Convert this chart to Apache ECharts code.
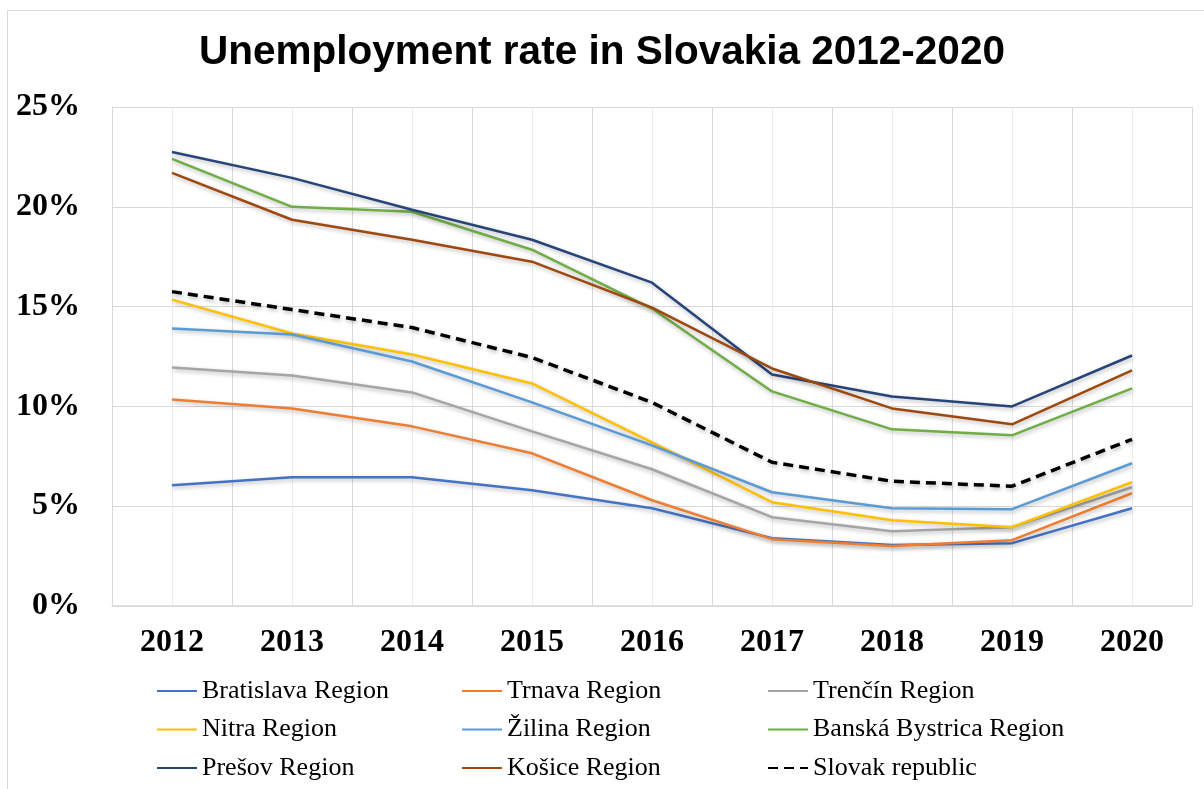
<!DOCTYPE html>
<html>
<head>
<meta charset="utf-8">
<title>Unemployment rate in Slovakia 2012-2020</title>
<script src="https://cdn.jsdelivr.net/npm/echarts@6/dist/echarts.min.js"></script>
<style>
    html, body { margin: 0; padding: 0; background: #ffffff; }
    #chart { width: 1204px; height: 789px; }
</style>
</head>
<body>
<div id="chart"></div>
<script>
// data (percent)
var years = ['2012', '2013', '2014', '2015', '2016', '2017', '2018', '2019', '2020'];

var bratislava = [6.05, 6.45, 6.45, 5.8, 4.9, 3.4, 3.05, 3.15, 4.9];
var trnava = [10.35, 9.9, 9.0, 7.65, 5.3, 3.35, 3.0, 3.3, 5.65];
var trencin = [11.95, 11.55, 10.7, 8.75, 6.85, 4.45, 3.75, 3.95, 5.95];
var nitra = [15.35, 13.65, 12.6, 11.15, 8.2, 5.2, 4.3, 3.95, 6.2];
var zilina = [13.9, 13.6, 12.25, 10.2, 8.05, 5.7, 4.9, 4.85, 7.15];
var banskaBystrica = [22.4, 20.0, 19.75, 17.85, 14.9, 10.75, 8.85, 8.55, 10.9];
var presov = [22.75, 21.45, 19.85, 18.35, 16.2, 11.6, 10.5, 10.0, 12.55];
var kosice = [21.7, 19.35, 18.35, 17.25, 14.95, 11.9, 9.9, 9.1, 11.8];
var slovakRepublic = [15.75, 14.85, 13.95, 12.45, 10.2, 7.2, 6.25, 6.0, 8.35];

var yTicks = [0, 5, 10, 15, 20, 25];

(function () {
    var myChart = echarts.init(document.getElementById('chart'));

    var shadow = {
        shadowColor: 'rgba(0, 0, 0, 0.28)',
        shadowBlur: 4,
        shadowOffsetX: 1,
        shadowOffsetY: 2
    };

    // one region line
    function region(name, color, data) {
        return {
            name: name,
            type: 'line',
            data: data,
            symbol: 'none',
            silent: true,
            itemStyle: { color: color },
            lineStyle: Object.assign({ color: color, width: 2.5 }, shadow)
        };
    }

    var legendText = {
        fontFamily: '"Liberation Serif", "Times New Roman", serif',
        fontSize: 26,
        lineHeight: 26,
        color: '#000000'
    };

    // legend in three fixed columns, like the Excel one
    function legendColumn(left, names) {
        return {
            orient: 'vertical',
            left: left,
            top: 673,
            height: 140,
            itemWidth: 40,
            itemHeight: 14,
            itemGap: 12.5,
            selectedMode: false,
            itemStyle: { opacity: 0 },
            textStyle: legendText,
            data: names
        };
    }

    var option = {
        animation: false,
        backgroundColor: '#ffffff',
        graphic: [{
            type: 'rect',
            shape: { x: 7.5, y: 10.5, width: 1220, height: 800 },
            style: { fill: 'none', stroke: '#d9d9d9', lineWidth: 1 },
            silent: true
        }],
        title: {
            text: 'Unemployment rate in Slovakia 2012-2020',
            left: 'center',
            top: 27,
            textStyle: {
                fontFamily: '"Liberation Sans", Arial, sans-serif',
                fontWeight: 'bold',
                fontSize: 40.5,
                color: '#000000'
            }
        },
        legend: [
            legendColumn(151, ['Bratislava Region', 'Nitra Region', 'Prešov Region']),
            legendColumn(456, ['Trnava Region', 'Žilina Region', 'Košice Region']),
            legendColumn(762, ['Trenčín Region', 'Banská Bystrica Region', 'Slovak republic'])
        ],
        grid: {
            left: 112,
            right: 12,
            top: 107,
            bottom: 183,
            containLabel: false
        },
        xAxis: [
            {
                type: 'category',
                data: years,
                boundaryGap: true,
                axisTick: { show: false },
                axisLine: { lineStyle: { color: '#d9d9d9', width: 1.5 } },
                axisLabel: {
                    margin: 21,
                    fontFamily: '"Liberation Serif", "Times New Roman", serif',
                    fontWeight: 'bold',
                    fontSize: 32,
                    color: '#000000'
                },
                splitLine: { show: false }
            },
            {
                // only for the vertical grid (boundaries + category centres)
                type: 'value',
                position: 'bottom',
                min: 0,
                max: years.length * 2,
                interval: 1,
                axisLabel: { show: false },
                axisTick: { show: false },
                axisLine: { show: false },
                splitLine: {
                    show: true,
                    lineStyle: { color: ['#d9d9d9', '#ececec'], width: 1 }
                }
            }
        ],
        yAxis: {
            type: 'value',
            min: yTicks[0],
            max: yTicks[yTicks.length - 1],
            interval: 5,
            axisLine: { show: true, lineStyle: { color: '#d9d9d9', width: 1 } },
            axisTick: { show: false },
            axisLabel: {
                margin: 32,
                padding: [4, 0, 0, 0],
                formatter: '{value}%',
                fontFamily: '"Liberation Serif", "Times New Roman", serif',
                fontWeight: 'bold',
                fontSize: 32,
                color: '#000000'
            },
            splitLine: { lineStyle: { color: '#d9d9d9', width: 1 } }
        },
        series: [
            region('Bratislava Region', '#4472C4', bratislava),
            region('Trnava Region', '#ED7D31', trnava),
            region('Trenčín Region', '#A5A5A5', trencin),
            region('Nitra Region', '#FFC000', nitra),
            region('Žilina Region', '#5B9BD5', zilina),
            region('Banská Bystrica Region', '#70AD47', banskaBystrica),
            region('Prešov Region', '#264478', presov),
            region('Košice Region', '#9E480E', kosice),
            {
                name: 'Slovak republic',
                type: 'line',
                data: slovakRepublic,
                symbol: 'none',
                silent: true,
                itemStyle: { color: '#000000' },
                lineStyle: Object.assign({ color: '#000000', width: 3.5, type: [10, 6] }, shadow)
            }
        ]
    };

    myChart.setOption(option);

    window.addEventListener('resize', function () {
        myChart.resize();
    });
})();
</script>
</body>
</html>
